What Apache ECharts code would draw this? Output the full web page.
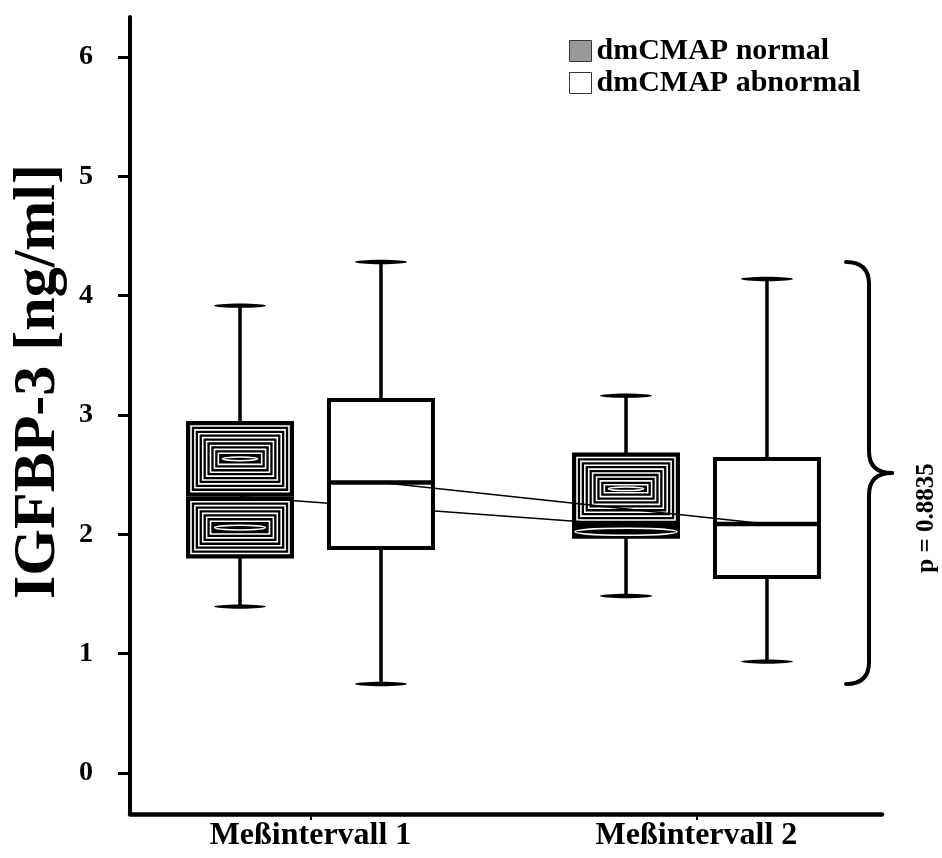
<!DOCTYPE html>
<html>
<head>
<meta charset="utf-8">
<script src="https://cdn.jsdelivr.net/npm/echarts@6/dist/echarts.min.js"></script>
<style>
  html, body { margin: 0; padding: 0; background: #fff; }
  #chart { width: 942px; height: 858px; }
</style>
</head>
<body>
<div id="chart"></div>
<script>
// ---- data ----
const categories = ['Meßintervall 1', 'Meßintervall 2'];
const seriesNames = ['dmCMAP normal', 'dmCMAP abnormal'];

const normalMin    = [1.394, 1.483];
const normalQ1     = [1.814, 1.980];
const normalMedian = [2.315, 2.078];
const normalQ3     = [2.933, 2.669];
const normalMax    = [3.916, 3.162];

const abnormalMin    = [0.746, 0.933];
const abnormalQ1     = [1.886, 1.642];
const abnormalMedian = [2.434, 2.087];
const abnormalQ3     = [3.126, 2.631];
const abnormalMax    = [4.282, 4.140];

const yTicks = [0, 1, 2, 3, 4, 5, 6];
const pValueText = 'p = 0.8835';
const yAxisTitle = 'IGFBP-3 [ng/ml]';

// ---- layout / style constants ----
const FONT = '"Liberation Serif", "Times New Roman", serif';
const GROUP_OFFSET = 0.1826;  // offset of each box from its category centre (axis units)
const BOX_W = 0.2694;         // box width (axis units)

function buildData(mins, q1s, meds, q3s, maxs) {
  return categories.map((c, i) => [i, mins[i], q1s[i], meds[i], q3s[i], maxs[i]]);
}

function hatchHalf(children, x, y, w, h) {
  children.push({ type: 'rect', shape: { x: x, y: y, width: w, height: h }, style: { fill: '#000' } });
  const border = 5, step = 3.9;
  let inset = border, last = null;
  while (true) {
    const iw = w - 2 * inset, ih = h - 2 * inset;
    if (ih < 7 || iw < 14) break;
    children.push({
      type: 'rect',
      shape: { x: x + inset, y: y + inset, width: iw, height: ih },
      style: { fill: null, stroke: '#fff', lineWidth: 1.6 }
    });
    last = inset;
    inset += step;
  }
  const e = last === null ? 3 : last + 4;
  const rx = Math.max(4, w / 2 - e);
  const ry = Math.min(3.5, Math.max(1.8, h / 2 - e));
  children.push({
    type: 'ellipse',
    shape: { cx: x + w / 2, cy: y + h / 2, rx: rx, ry: ry },
    style: { fill: '#000', stroke: '#fff', lineWidth: 1.5 }
  });
}

function makeRenderer(hatched, offset, medians) {
  return function (params, api) {
    const i = params.dataIndex;
    const xv = api.value(0) + offset;
    const cx = api.coord([xv, 0])[0];
    const pMin = api.coord([xv, api.value(1)])[1];
    const pQ1  = api.coord([xv, api.value(2)])[1];
    const pMed = api.coord([xv, api.value(3)])[1];
    const pQ3  = api.coord([xv, api.value(4)])[1];
    const pMax = api.coord([xv, api.value(5)])[1];
    const bw = api.size([BOX_W, 0])[0];
    const capR = bw / 4;
    const children = [];
    const ws = { stroke: '#000', lineWidth: 3.5 };
    children.push({ type: 'line', shape: { x1: cx, y1: pMax, x2: cx, y2: pQ3 }, style: ws });
    children.push({ type: 'line', shape: { x1: cx, y1: pQ1, x2: cx, y2: pMin }, style: ws });
    children.push({ type: 'ellipse', shape: { cx: cx, cy: pMax, rx: capR, ry: 2.2 }, style: { fill: '#000' } });
    children.push({ type: 'ellipse', shape: { cx: cx, cy: pMin, rx: capR, ry: 2.2 }, style: { fill: '#000' } });
    if (hatched) {
      const left = cx - bw / 2 - 2, w = bw + 4;
      hatchHalf(children, left, pQ3 - 2, w, pMed - (pQ3 - 2));
      hatchHalf(children, left, pMed, w, pQ1 + 2 - pMed);
    } else {
      children.push({
        type: 'rect',
        shape: { x: cx - bw / 2, y: pQ3, width: bw, height: pQ1 - pQ3 },
        style: { fill: '#fff', stroke: '#000', lineWidth: 4 }
      });
      children.push({
        type: 'line',
        shape: { x1: cx - bw / 2, y1: pMed, x2: cx + bw / 2, y2: pMed },
        style: { stroke: '#000', lineWidth: 4.5 }
      });
    }
    if (i > 0) {
      const prev = api.coord([i - 1 + offset, medians[i - 1]]);
      children.push({
        type: 'line',
        shape: { x1: prev[0], y1: prev[1], x2: cx, y2: pMed },
        style: { stroke: '#000', lineWidth: 1.5 }
      });
    }
    return { type: 'group', children: children };
  };
}

const chart = echarts.init(document.getElementById('chart'), null, { renderer: 'canvas' });

const option = {
  backgroundColor: '#fff',
  animation: false,
  grid: { left: 130, right: 60, top: 17, bottom: 44 },
  legend: {
    orient: 'vertical',
    left: 564,
    top: 31,
    icon: 'rect',
    itemWidth: 22,
    itemHeight: 21,
    itemGap: 2,
    selectedMode: false,
    textStyle: { fontFamily: FONT, fontWeight: 'bold', fontSize: 30, color: '#000' },
    data: [
      { name: seriesNames[0], itemStyle: { color: '#999', borderColor: '#333', borderWidth: 1 } },
      { name: seriesNames[1], itemStyle: { color: '#fff', borderColor: '#333', borderWidth: 1 } }
    ]
  },
  xAxis: {
    type: 'value',
    min: -0.4676,
    max: 1.4806,
    splitLine: { show: false },
    axisLine: { show: true, onZero: false, lineStyle: { color: '#000', width: 4.5 } },
    axisTick: { show: true, customValues: [0, 1], length: 6, lineStyle: { color: '#000', width: 2 } },
    axisLabel: {
      customValues: [0, 1],
      formatter: v => categories[Math.round(v)] || '',
      margin: 6,
      fontFamily: FONT, fontWeight: 'bold', fontSize: 32, color: '#000'
    }
  },
  yAxis: {
    type: 'value',
    min: -0.344,
    max: 6.335,
    name: yAxisTitle,
    nameLocation: 'middle',
    nameGap: 60,
    nameTextStyle: { fontFamily: FONT, fontWeight: 'bold', fontSize: 60, color: '#000', padding: [0, 0, 0, 68] },
    splitLine: { show: false },
    axisLine: { show: true, onZero: false, lineStyle: { color: '#000', width: 4 } },
    axisTick: { show: true, customValues: yTicks, length: 12, lineStyle: { color: '#000', width: 3 } },
    axisLabel: {
      customValues: yTicks,
      margin: 37,
      fontFamily: FONT, fontWeight: 'bold', fontSize: 28, color: '#000'
    }
  },
  series: [
    {
      name: seriesNames[0],
      type: 'custom',
      itemStyle: { color: '#999' },
      encode: { x: 0, y: [1, 2, 3, 4, 5] },
      renderItem: makeRenderer(true, -GROUP_OFFSET, normalMedian),
      data: buildData(normalMin, normalQ1, normalMedian, normalQ3, normalMax),
      z: 2
    },
    {
      name: seriesNames[1],
      type: 'custom',
      itemStyle: { color: '#fff' },
      encode: { x: 0, y: [1, 2, 3, 4, 5] },
      renderItem: makeRenderer(false, GROUP_OFFSET, abnormalMedian),
      data: buildData(abnormalMin, abnormalQ1, abnormalMedian, abnormalQ3, abnormalMax),
      z: 3
    }
  ]
};
chart.setOption(option);

// ---- brace + p-value annotation spanning the full data range ----
const allMax = Math.max(...normalMax, ...abnormalMax);
const allMin = Math.min(...normalMin, ...abnormalMin);
const T = chart.convertToPixel({ xAxisIndex: 0, yAxisIndex: 0 }, [0, allMax])[1];
const B = chart.convertToPixel({ xAxisIndex: 0, yAxisIndex: 0 }, [0, allMin])[1];
const M = (T + B) / 2;
const E = 846, S = 869, P = 892, r = 22;
const bs = { stroke: '#000', lineWidth: 4, lineCap: 'round', fill: null };
chart.setOption({
  graphic: [
    { type: 'bezierCurve', shape: { x1: E, y1: T, cpx1: S, cpy1: T, x2: S, y2: T + r }, style: bs },
    { type: 'line', shape: { x1: S, y1: T + r, x2: S, y2: M - r }, style: bs },
    { type: 'bezierCurve', shape: { x1: S, y1: M - r, cpx1: S, cpy1: M, x2: P, y2: M }, style: bs },
    { type: 'bezierCurve', shape: { x1: P, y1: M, cpx1: S, cpy1: M, x2: S, y2: M + r }, style: bs },
    { type: 'line', shape: { x1: S, y1: M + r, x2: S, y2: B - r }, style: bs },
    { type: 'bezierCurve', shape: { x1: S, y1: B - r, cpx1: S, cpy1: B, x2: E, y2: B }, style: bs },
    {
      type: 'text',
      x: 927,
      y: M + 45,
      rotation: Math.PI / 2,
      style: {
        text: pValueText,
        font: 'bold 25px ' + FONT,
        fill: '#000',
        textAlign: 'center',
        textVerticalAlign: 'middle'
      }
    }
  ]
});
</script>
</body>
</html>
